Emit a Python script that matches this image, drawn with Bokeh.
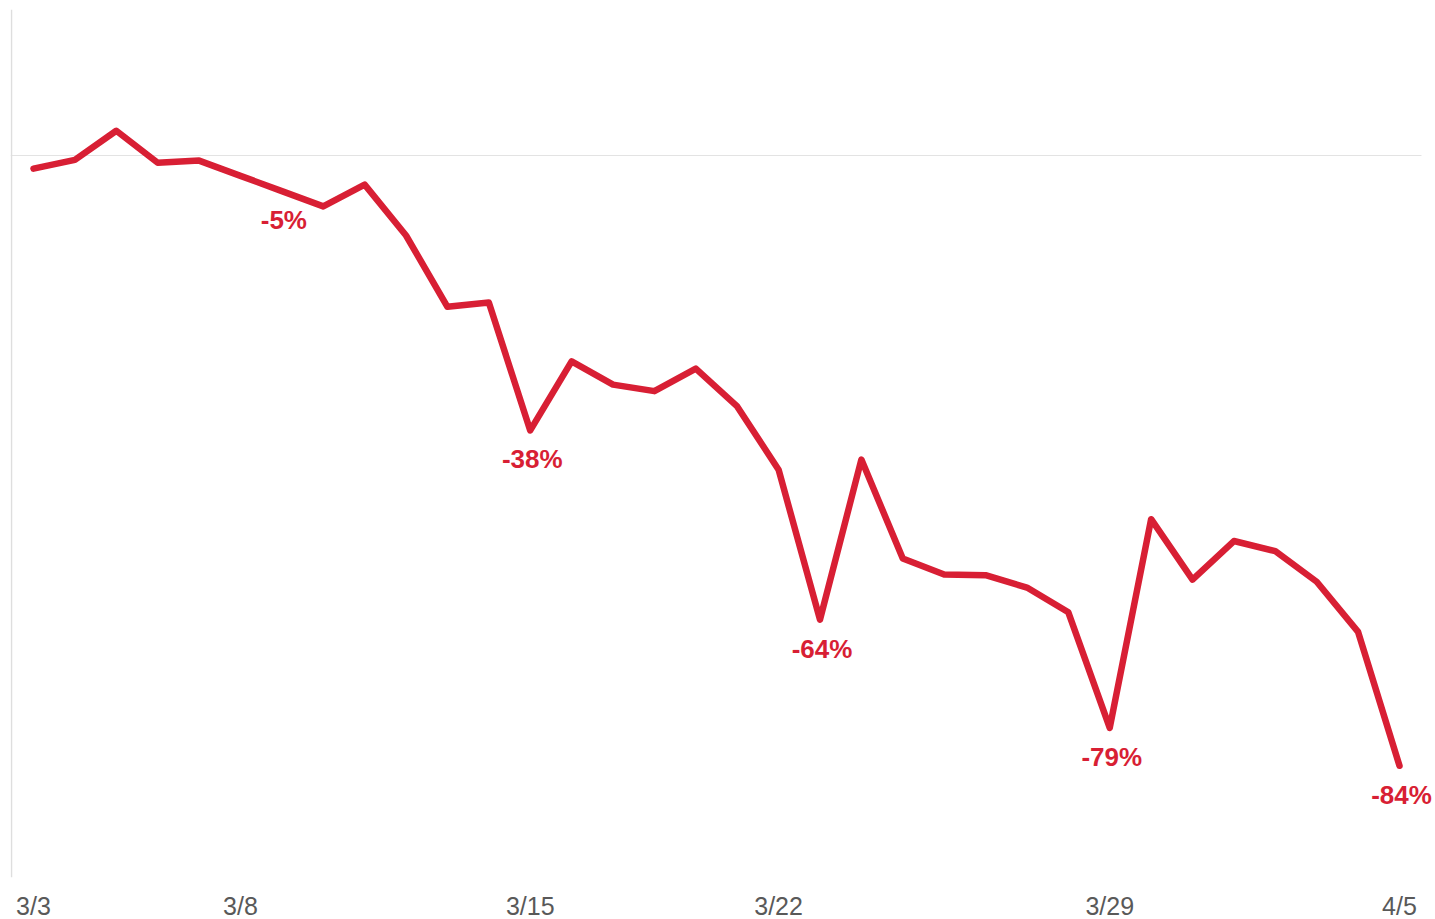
from bokeh.plotting import figure
from bokeh.models import Span, ColumnDataSource, Range1d, FixedTicker
from bokeh.core.properties import value
from bokeh.embed import file_html
from bokeh.resources import INLINE

dates = ["3/3", "3/4", "3/5", "3/6", "3/7", "3/8", "3/9", "3/10", "3/11", "3/12",
         "3/13", "3/14", "3/15", "3/16", "3/17", "3/18", "3/19", "3/20", "3/21", "3/22",
         "3/23", "3/24", "3/25", "3/26", "3/27", "3/28", "3/29", "3/30", "3/31", "4/1",
         "4/2", "4/3", "4/4", "4/5"]
values = [-1.8, -0.6, 3.4, -1.0, -0.7, -2.8, -4.9, -7.0, -4.0, -11.0,
          -20.8, -20.2, -37.8, -28.3, -31.5, -32.4, -29.3, -34.5, -43.2, -63.8,
          -41.8, -55.4, -57.6, -57.7, -59.4, -62.8, -78.7, -50.0, -58.3, -53.0,
          -54.4, -58.6, -65.5, -83.9]
label_dates = ["3/9", "3/15", "3/22", "3/29", "4/5"]
tick_dates = ["3/3", "3/8", "3/15", "3/21", "3/29", "4/5"]
tick_labels = ["3/3", "3/8", "3/15", "3/22", "3/29", "4/5"]

RED = "#d81f34"

X0 = -0.5556
GRID_END = 33.531

xs = list(range(len(dates)))
src = ColumnDataSource(dict(x=xs, y=values))

lab_idx = [dates.index(d) for d in label_dates]
lab_src = ColumnDataSource(dict(
    x=lab_idx,
    y=[values[i] for i in lab_idx],
    t=[f"{round(values[i])}%" for i in lab_idx],
))

# frame extends to the right page edge so the last label is not clipped
p = figure(frame_width=1425, frame_height=868, output_backend="svg", toolbar_location=None,
           x_range=Range1d(X0, X0 + 1425 / 41.394), y_range=Range1d(-99.26, 20.07),
           min_border_left=10, min_border_right=0, min_border_top=9, min_border_bottom=42)
p.outline_line_color = None
p.background_fill_color = "white"
p.border_fill_color = "white"
p.xgrid.visible = False
p.ygrid.visible = False
p.yaxis.visible = False

p.segment(x0=[X0], y0=[0], x1=[GRID_END], y1=[0], line_color="#e3e3e3", line_width=1)
p.add_layout(Span(location=-0.5315, dimension="height", line_color="#dedede", line_width=1.5))

p.line("x", "y", source=src, line_color=RED, line_width=6.5,
       line_join="round", line_cap="round")

p.text("x", "y", text="t", source=lab_src, text_color=RED,
       text_font=value("Liberation Sans"), text_font_style="bold",
       text_font_size="26px", text_align="center", text_baseline="top",
       x_offset=2, y_offset=14)

ax = p.xaxis[0]
ax.ticker = FixedTicker(ticks=[dates.index(d) for d in tick_dates])
ax.major_label_overrides = {dates.index(d): l for d, l in zip(tick_dates, tick_labels)}
ax.axis_line_color = None
ax.major_tick_line_color = None
ax.minor_tick_line_color = None
ax.major_tick_out = 0
ax.major_tick_in = 0
ax.major_label_standoff = 14
ax.major_label_text_font = "Liberation Sans"
ax.major_label_text_font_size = "25px"
ax.major_label_text_color = "#595959"

open("out.html", "w").write(file_html(p, INLINE))
